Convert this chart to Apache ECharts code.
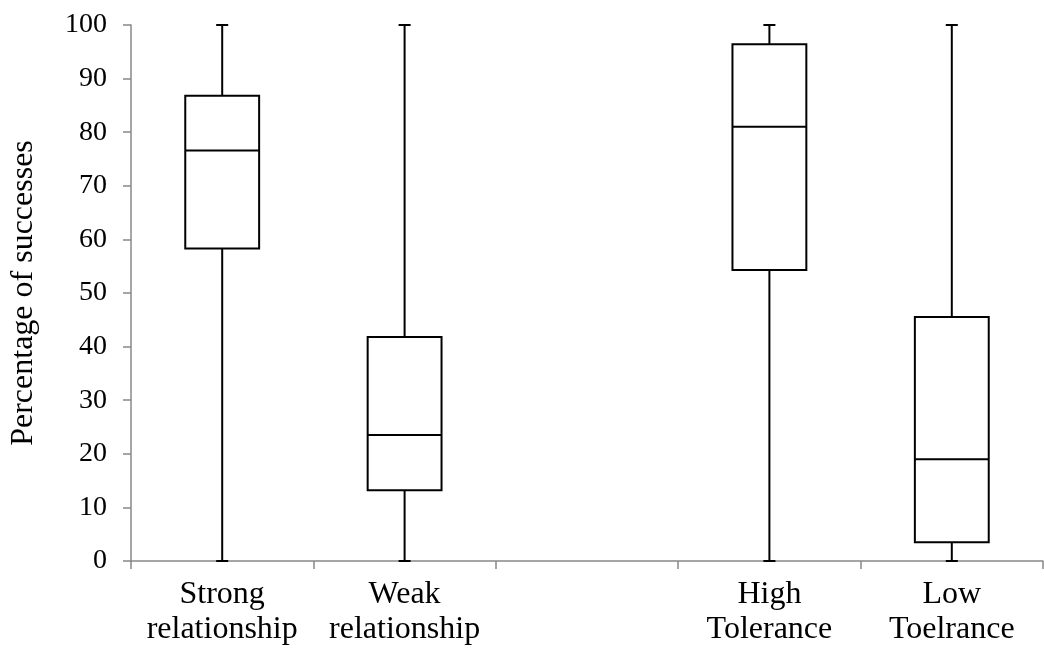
<!DOCTYPE html>
<html>
<head>
<meta charset="utf-8">
<script src="https://cdn.jsdelivr.net/npm/echarts@6/dist/echarts.min.js"></script>
<style>
html,body{margin:0;padding:0;background:#fff;}
#chart{width:1044px;height:649px;}
</style>
</head>
<body>
<div id="chart"></div>
<script>
var categories = ['Strong\nrelationship', 'Weak\nrelationship', '', 'High\nTolerance', 'Low\nToelrance'];
var boxIndex = [0, 1, 3, 4];
var mins = [0, 0, 0, 0];
var q1s = [58.3, 13.2, 54.3, 3.5];
var medians = [76.6, 23.5, 81.0, 19.0];
var q3s = [86.8, 41.8, 96.4, 45.5];
var maxs = [100, 100, 100, 100];
var yTicks = {min: 0, max: 100, interval: 10};

var data = boxIndex.map(function (c, i) {
  return [c, mins[i], q1s[i], medians[i], q3s[i], maxs[i]];
});

var chart = echarts.init(document.getElementById('chart'));
var FONT = '"Liberation Serif", "Times New Roman", serif';

function renderItem(params, api) {
  var c = api.value(0);
  var pMin = api.coord([c, api.value(1)]);
  var pQ1 = api.coord([c, api.value(2)]);
  var pMed = api.coord([c, api.value(3)]);
  var pQ3 = api.coord([c, api.value(4)]);
  var pMax = api.coord([c, api.value(5)]);
  var bandW = api.size([1, 0])[0];
  var halfBox = bandW * 0.405 / 2;
  var halfCap = bandW * 0.066 / 2;
  var x = pMed[0];
  var st = {stroke: '#000', lineWidth: 2, fill: null};
  return {
    type: 'group',
    children: [
      {type: 'line', shape: {x1: x, y1: pMax[1], x2: x, y2: pQ3[1]}, style: st},
      {type: 'line', shape: {x1: x, y1: pMin[1], x2: x, y2: pQ1[1]}, style: st},
      {type: 'line', shape: {x1: x - halfCap, y1: pMax[1], x2: x + halfCap, y2: pMax[1]}, style: st},
      {type: 'line', shape: {x1: x - halfCap, y1: pMin[1], x2: x + halfCap, y2: pMin[1]}, style: st},
      {type: 'rect', shape: {x: x - halfBox, y: pQ3[1], width: halfBox * 2, height: pQ1[1] - pQ3[1]}, style: {stroke: '#000', lineWidth: 2, fill: '#fff'}},
      {type: 'line', shape: {x1: x - halfBox, y1: pMed[1], x2: x + halfBox, y2: pMed[1]}, style: st}
    ]
  };
}

chart.setOption({
  animation: false,
  backgroundColor: '#fff',
  grid: {left: 131, right: 1, top: 25, bottom: 88, containLabel: false},
  xAxis: {
    type: 'category',
    data: categories,
    boundaryGap: true,
    axisLine: {show: true, lineStyle: {color: '#888', width: 1.5}},
    axisTick: {show: true, length: 8, interval: 0, lineStyle: {color: '#888', width: 1.5}},
    axisLabel: {interval: 0, color: '#000', fontFamily: FONT, fontSize: 32, lineHeight: 35, margin: 16},
    splitLine: {show: false}
  },
  yAxis: {
    type: 'value',
    min: yTicks.min, max: yTicks.max, interval: yTicks.interval,
    name: 'Percentage of successes',
    nameLocation: 'middle',
    nameGap: 91,
    nameRotate: 90,
    nameTextStyle: {color: '#000', fontFamily: FONT, fontSize: 32},
    axisLine: {show: true, lineStyle: {color: '#888', width: 1.5}},
    axisTick: {show: true, length: 8, lineStyle: {color: '#888', width: 1.5}},
    axisLabel: {color: '#000', fontFamily: FONT, fontSize: 28, margin: 24},
    splitLine: {show: false}
  },
  series: [{
    type: 'custom',
    renderItem: renderItem,
    data: data,
    encode: {x: 0, y: [1, 2, 3, 4, 5]},
    z: 3
  }]
});
</script>
</body>
</html>
